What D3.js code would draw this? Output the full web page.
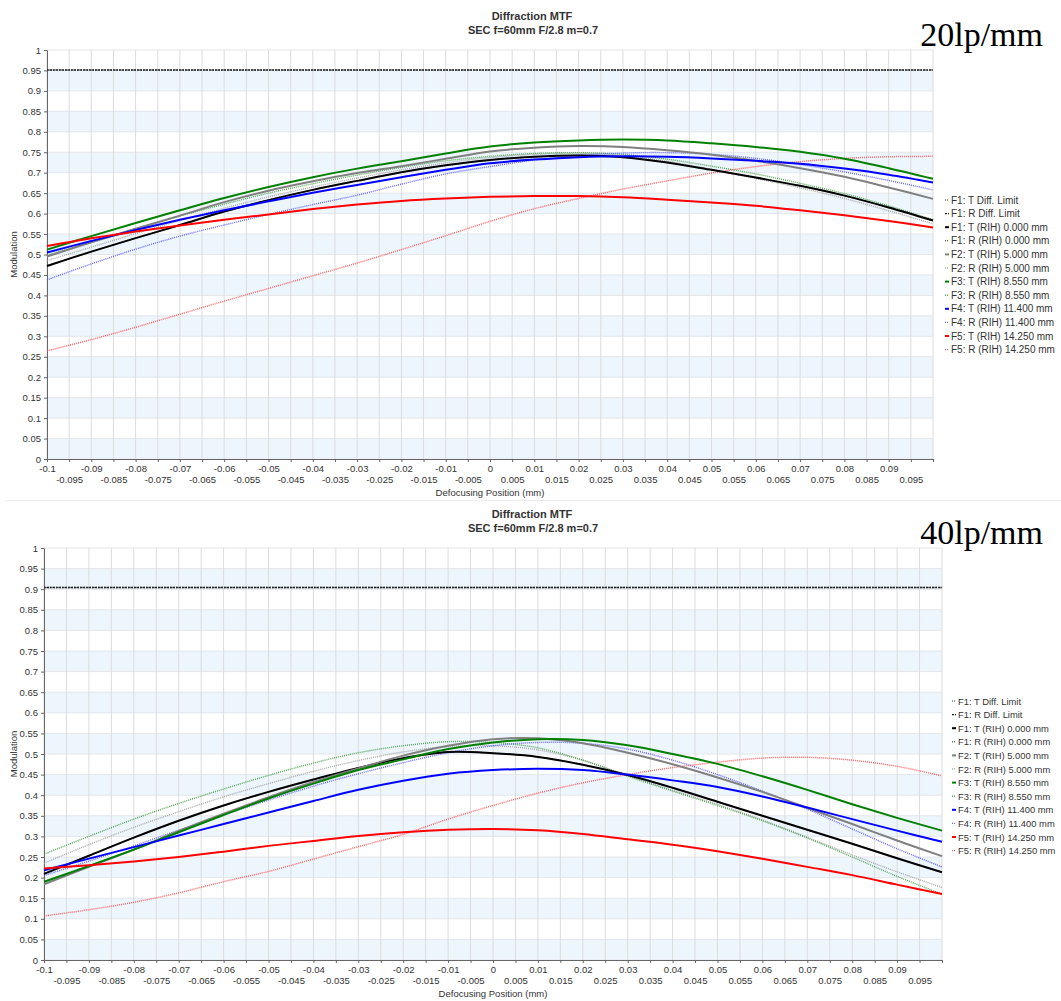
<!DOCTYPE html>
<html>
<head>
<meta charset="utf-8">
<script src="https://cdn.jsdelivr.net/npm/d3@7"></script>
<style>
  body { margin: 0; background: #fff; }
  svg { display: block; }
  text { font-family: "Liberation Sans", Arial, sans-serif; }
</style>
</head>
<body>
<svg id="chart" width="1061" height="1001"></svg>
<script>
// defocus positions (mm) where curves were read
const defocus = [-0.1, -0.09, -0.08, -0.07, -0.06, -0.05, -0.04, -0.03, -0.02, -0.01, 0,
                 0.01, 0.02, 0.03, 0.04, 0.05, 0.06, 0.07, 0.08, 0.09, 0.1];

// 20 lp/mm
const diff20 = 0.951;
const f1_20  = [0.472,0.507,0.540,0.572,0.605,0.633,0.658,0.680,0.701,0.718,0.731,0.739,0.742,0.738,0.725,0.707,0.688,0.668,0.644,0.615,0.583];
const f2T_20 = [0.495,0.530,0.563,0.595,0.628,0.656,0.679,0.699,0.716,0.734,0.752,0.761,0.765,0.763,0.755,0.744,0.729,0.711,0.690,0.664,0.636];
const f2R_20 = [0.485,0.518,0.551,0.583,0.613,0.641,0.665,0.687,0.707,0.724,0.737,0.745,0.747,0.742,0.728,0.708,0.686,0.663,0.637,0.607,0.575];
const f3T_20 = [0.512,0.545,0.577,0.608,0.638,0.665,0.689,0.710,0.728,0.747,0.764,0.774,0.779,0.781,0.779,0.772,0.763,0.751,0.734,0.711,0.685];
const f3R_20 = [0.498,0.530,0.562,0.594,0.623,0.650,0.673,0.694,0.713,0.729,0.740,0.747,0.749,0.745,0.733,0.716,0.697,0.674,0.649,0.619,0.585];
const f4T_20 = [0.505,0.533,0.560,0.585,0.608,0.630,0.651,0.670,0.689,0.707,0.723,0.732,0.738,0.740,0.739,0.735,0.729,0.722,0.710,0.695,0.676];
const f4R_20 = [0.438,0.477,0.513,0.545,0.572,0.598,0.622,0.645,0.672,0.697,0.715,0.731,0.742,0.748,0.749,0.745,0.735,0.720,0.702,0.681,0.658];
const f5T_20 = [0.521,0.540,0.556,0.571,0.585,0.598,0.611,0.622,0.631,0.637,0.641,0.643,0.643,0.640,0.634,0.627,0.619,0.608,0.596,0.582,0.566];
const f5R_20 = [0.264,0.292,0.322,0.354,0.386,0.417,0.448,0.479,0.512,0.546,0.581,0.612,0.637,0.660,0.680,0.699,0.715,0.727,0.735,0.739,0.740];

// 40 lp/mm
const diff40 = 0.904;
const f1_40  = [0.209,0.253,0.297,0.338,0.375,0.408,0.438,0.466,0.490,0.505,0.502,0.493,0.474,0.449,0.418,0.384,0.350,0.316,0.282,0.247,0.213];
const f2T_40 = [0.184,0.226,0.268,0.313,0.355,0.395,0.432,0.465,0.496,0.520,0.536,0.538,0.526,0.503,0.475,0.443,0.408,0.369,0.330,0.290,0.252];
const f2R_40 = [0.235,0.280,0.322,0.360,0.396,0.428,0.458,0.484,0.505,0.518,0.520,0.510,0.485,0.448,0.412,0.378,0.340,0.298,0.255,0.214,0.176];
const f3T_40 = [0.190,0.228,0.268,0.310,0.352,0.392,0.428,0.461,0.487,0.512,0.528,0.536,0.534,0.521,0.500,0.476,0.446,0.413,0.378,0.345,0.314];
const f3R_40 = [0.257,0.300,0.342,0.380,0.415,0.448,0.478,0.503,0.520,0.530,0.528,0.515,0.485,0.446,0.410,0.375,0.338,0.296,0.250,0.203,0.160];
const f4T_40 = [0.218,0.246,0.274,0.302,0.330,0.358,0.386,0.413,0.435,0.452,0.461,0.464,0.461,0.450,0.436,0.420,0.397,0.370,0.342,0.314,0.287];
const f4R_40 = [0.205,0.240,0.277,0.315,0.352,0.388,0.422,0.452,0.479,0.503,0.520,0.528,0.526,0.512,0.485,0.450,0.410,0.366,0.318,0.270,0.226];
const f5T_40 = [0.222,0.230,0.239,0.250,0.263,0.277,0.289,0.301,0.310,0.316,0.318,0.315,0.306,0.293,0.280,0.264,0.246,0.226,0.206,0.183,0.160];
const f5R_40 = [0.107,0.122,0.140,0.163,0.190,0.215,0.245,0.275,0.305,0.342,0.375,0.405,0.430,0.450,0.467,0.480,0.490,0.492,0.485,0.470,0.447];

const legendLabels = [
  "F1: T Diff. Limit", "F1: R Diff. Limit",
  "F1: T (RIH) 0.000 mm", "F1: R (RIH) 0.000 mm",
  "F2: T (RIH) 5.000 mm", "F2: R (RIH) 5.000 mm",
  "F3: T (RIH) 8.550 mm", "F3: R (RIH) 8.550 mm",
  "F4: T (RIH) 11.400 mm", "F4: R (RIH) 11.400 mm",
  "F5: T (RIH) 14.250 mm", "F5: R (RIH) 14.250 mm"
];
const xTicks = [-0.1,-0.095,-0.09,-0.085,-0.08,-0.075,-0.07,-0.065,-0.06,-0.055,-0.05,-0.045,-0.04,-0.035,-0.03,-0.025,-0.02,-0.015,-0.01,-0.005,
                0,0.005,0.01,0.015,0.02,0.025,0.03,0.035,0.04,0.045,0.05,0.055,0.06,0.065,0.07,0.075,0.08,0.085,0.09,0.095,0.1];
const yTicks = [0,0.05,0.1,0.15,0.2,0.25,0.3,0.35,0.4,0.45,0.5,0.55,0.6,0.65,0.7,0.75,0.8,0.85,0.9,0.95,1];

// styles per legend entry
const styles = [
  { color: "#777", dash: "1,1", width: 1.4, op: 1 },
  { color: "#222", dash: "2,1", width: 1.4, op: 1 },
  { color: "#000", dash: null, width: 2, op: 1 },
  { color: "#444", dash: "1,1", width: 1.4, op: 0.8 },
  { color: "#808080", dash: null, width: 2, op: 1 },
  { color: "#a0a0a0", dash: "1,1", width: 1.4, op: 0.9 },
  { color: "#008000", dash: null, width: 2, op: 1 },
  { color: "#3a9a3a", dash: "1,1", width: 1.4, op: 0.85 },
  { color: "#0000ff", dash: null, width: 2, op: 1 },
  { color: "#5050ff", dash: "1,1", width: 1.4, op: 0.85 },
  { color: "#ff0000", dash: null, width: 2, op: 1 },
  { color: "#ff4d4d", dash: "1,1", width: 1.5, op: 0.85 }
];

const fmt = v => String(+v.toFixed(3));
const svg = d3.select("#chart");

function drawPanel(p) {
  const g = svg.append("g");
  const x = d3.scaleLinear().domain([-0.1, 0.1]).range([p.left, p.right]);
  const y = d3.scaleLinear().domain([0, 1]).range([p.bottom, p.top]);

  // alternating bands
  g.selectAll("rect.band")
    .data(yTicks.slice(0, -1).filter((d, i) => i % 2 === 0))
    .enter().append("rect")
    .attr("x", p.left).attr("width", p.right - p.left)
    .attr("y", d => y(d + 0.05)).attr("height", d => y(d) - y(d + 0.05))
    .attr("fill", "#edf5fd");

  g.selectAll("line.hgrid").data(yTicks).enter().append("line")
    .attr("x1", p.left).attr("x2", p.right)
    .attr("y1", d => y(d)).attr("y2", d => y(d))
    .attr("stroke", "#e3e6ea").attr("stroke-width", 1);

  g.selectAll("line.vgrid").data(xTicks).enter().append("line")
    .attr("x1", d => x(d)).attr("x2", d => x(d))
    .attr("y1", p.top).attr("y2", p.bottom)
    .attr("stroke", "#dcdcdc").attr("stroke-width", 1);

  // axes
  const xAxis = g.append("g").attr("transform", `translate(0,${p.bottom})`)
    .call(d3.axisBottom(x).tickValues(xTicks).tickSize(3).tickSizeOuter(0)
      .tickFormat(d => Math.abs(d - 0.1) < 1e-9 ? "" : fmt(d)));
  xAxis.selectAll("text")
    .attr("dy", 0)
    .attr("y", (d, i) => i % 2 === 0 ? 12.5 : 23.5);
  const yAxis = g.append("g").attr("transform", `translate(${p.left},0)`)
    .call(d3.axisLeft(y).tickValues(yTicks).tickSize(3).tickSizeOuter(0).tickFormat(fmt));
  [xAxis, yAxis].forEach(a => {
    a.select(".domain").attr("stroke", "#666");
    a.selectAll(".tick line").attr("stroke", "#666");
    a.selectAll("text").attr("fill", "#333").style("font-size", "9.5px")
      .style("font-family", "'Liberation Sans', Arial, sans-serif");
  });

  g.append("text").attr("x", (p.left + p.right) / 2).attr("y", p.bottom + 37)
    .attr("text-anchor", "middle").attr("font-size", 9.5).attr("fill", "#333")
    .text("Defocusing Position (mm)");
  g.append("text").attr("transform", `translate(17,${(p.top + p.bottom) / 2}) rotate(-90)`)
    .attr("text-anchor", "middle").attr("font-size", 9.5).attr("fill", "#333")
    .text("Modulation");

  // titles
  g.append("text").attr("x", 532).attr("y", p.top - 30).attr("text-anchor", "middle")
    .attr("font-size", 11).attr("font-weight", "bold").attr("fill", "#333").text("Diffraction MTF");
  g.append("text").attr("x", 533).attr("y", p.top - 16).attr("text-anchor", "middle")
    .attr("font-size", 11).attr("font-weight", "bold").attr("fill", "#333").text("SEC f=60mm F/2.8 m=0.7");
  g.append("text").attr("x", 1043).attr("y", p.top - 4).attr("text-anchor", "end")
    .style("font-family", "'Liberation Serif', 'Times New Roman', serif")
    .attr("font-size", 34).attr("fill", "#000").text(p.label);

  // curves
  const line = d3.line()
    .x((d, i) => x(defocus[i]))
    .y(d => y(d))
    .curve(d3.curveCatmullRom.alpha(0.5));

  const series = [
    defocus.map(() => p.diff), defocus.map(() => p.diff),
    p.f1, p.f1, p.f2T, p.f2R, p.f3T, p.f3R, p.f4T, p.f4R, p.f5T, p.f5R
  ];
  // dotted R curves under the solid T curves
  const order = [0, 1, 3, 5, 7, 9, 11, 2, 4, 6, 8, 10];
  order.forEach(k => {
    const s = styles[k];
    g.append("path").datum(series[k])
      .attr("d", line)
      .attr("fill", "none")
      .attr("stroke", s.color)
      .attr("stroke-width", s.width)
      .attr("stroke-opacity", s.op)
      .attr("stroke-dasharray", s.dash);
  });

  // legend
  const lg = g.append("g").attr("transform", `translate(${p.legX},${p.legY})`);
  legendLabels.forEach((lab, i) => {
    const s = styles[i];
    const row = lg.append("g").attr("transform", `translate(0,${i * 13.6})`);
    row.append("line").attr("x1", 0).attr("x2", 4).attr("y1", 0).attr("y2", 0)
      .attr("stroke", s.color).attr("stroke-width", s.dash ? 1.4 : 2)
      .attr("stroke-dasharray", s.dash).attr("stroke-opacity", s.op);
    row.append("text").attr("x", 6).attr("y", 3.5)
      .attr("font-size", p.legFont).attr("fill", "#333").text(lab);
  });
}

drawPanel({
  label: "20lp/mm", left: 47, right: 933, top: 50, bottom: 459,
  legX: 945, legY: 200, legFont: 10, diff: diff20,
  f1: f1_20, f2T: f2T_20, f2R: f2R_20, f3T: f3T_20, f3R: f3R_20,
  f4T: f4T_20, f4R: f4R_20, f5T: f5T_20, f5R: f5R_20
});

svg.append("line").attr("x1", 6).attr("x2", 1061).attr("y1", 500.5).attr("y2", 500.5)
  .attr("stroke", "#eeeeee");

drawPanel({
  label: "40lp/mm", left: 44, right: 942, top: 548, bottom: 960,
  legX: 952, legY: 701, legFont: 9.4, diff: diff40,
  f1: f1_40, f2T: f2T_40, f2R: f2R_40, f3T: f3T_40, f3R: f3R_40,
  f4T: f4T_40, f4R: f4R_40, f5T: f5T_40, f5R: f5R_40
});
</script>
</body>
</html>
